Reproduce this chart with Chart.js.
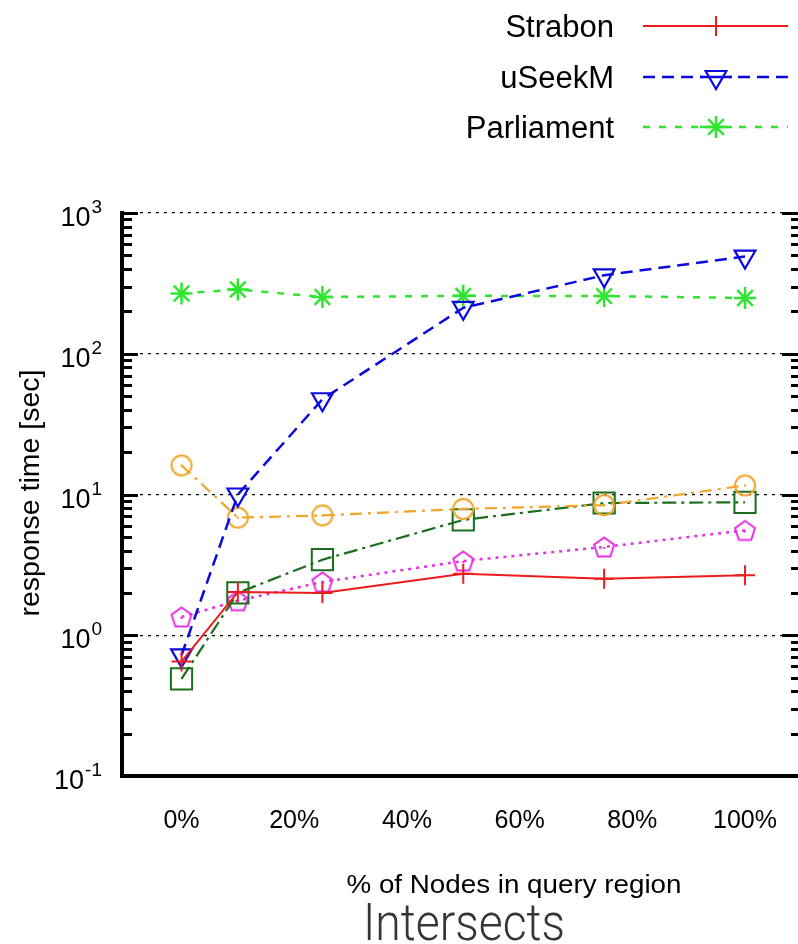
<!DOCTYPE html>
<html>
<head>
<meta charset="utf-8">
<script src="https://cdn.jsdelivr.net/npm/chart.js@4.4.1/dist/chart.umd.min.js"></script>
<style>
html,body{margin:0;padding:0;background:#fff;}
canvas{display:block;}
</style>
</head>
<body>
<canvas id="c" width="798" height="944"></canvas>
<script>
// ---------------- data ----------------
const xValues = [0, 10, 25, 50, 75, 100];
const xTickValues = [0, 20, 40, 60, 80, 100];
const xTickLabels = ['0%', '20%', '40%', '60%', '80%', '100%'];
const yTickValues = [0.1, 1, 10, 100, 1000];
const yTickBase = '10';
const yTickExponents = ['-1', '0', '1', '2', '3'];
const seriesNames = ['Strabon', 'uSeekM', 'Parliament', '', '', ''];
const strabonValues = [0.65, 2.03, 2.0, 2.74, 2.52, 2.67];
const useekmValues = [0.72, 10.0, 47.5, 212, 361, 490];
const parliamentValues = [268, 286, 253, 258, 257, 249];
const orangeValues = [16.1, 6.85, 7.1, 7.9, 8.4, 11.6];
const darkGreenValues = [0.49, 2.0, 3.44, 6.6, 8.7, 8.8];
const magentaValues = [1.35, 1.76, 2.39, 3.37, 4.24, 5.56];
const titleText = 'Intersects';
const xTitleText = '% of Nodes in query region';
const yTitleText = 'response time [sec]';

// ---------------- marker canvases ----------------
function dotCircle(color) {
  const c = document.createElement('canvas');
  c.width = 26; c.height = 26;
  const g = c.getContext('2d');
  g.strokeStyle = color; g.lineWidth = 2;
  g.beginPath(); g.arc(13, 13, 10, 0, Math.PI * 2); g.stroke();
  g.fillStyle = color; g.fillRect(12, 12, 2, 2);
  return c;
}
function dotPentagon(color) {
  const c = document.createElement('canvas');
  c.width = 26; c.height = 26;
  const g = c.getContext('2d');
  g.strokeStyle = color; g.lineWidth = 2;
  g.beginPath();
  for (let i = 0; i < 5; i++) {
    const a = -Math.PI / 2 + i * 2 * Math.PI / 5;
    const px = 13 + Math.cos(a) * 10.5, py = 14 + Math.sin(a) * 10.5;
    if (i === 0) g.moveTo(px, py); else g.lineTo(px, py);
  }
  g.closePath(); g.stroke();
  g.fillStyle = color; g.fillRect(12, 13, 2, 2);
  return c;
}

function pts(vals) { return xValues.map((x, i) => ({ x: x, y: vals[i] })); }

const datasets = [
  { label: seriesNames[0], data: pts(strabonValues), borderColor: '#ec1c1c', borderWidth: 2, borderDash: [],
    pointStyle: 'cross', pointRadius: 10, pointBorderWidth: 2, pointBorderColor: '#ec1c1c', pointBackgroundColor: 'rgba(0,0,0,0)', pointRotation: 0 },
  { label: seriesNames[1], data: pts(useekmValues), borderColor: '#0a0ae0', borderWidth: 2.5, borderDash: [12, 7],
    pointStyle: 'triangle', pointRotation: 180, pointRadius: 12, pointBorderWidth: 2.2, pointBorderColor: '#0a0ae0', pointBackgroundColor: 'rgba(0,0,0,0)' },
  { label: seriesNames[2], data: pts(parliamentValues), borderColor: '#2ee62e', borderWidth: 2.5, borderDash: [7, 9],
    pointStyle: 'star', pointRadius: 11, pointBorderWidth: 2.5, pointBorderColor: '#2ee62e', pointBackgroundColor: 'rgba(0,0,0,0)', pointRotation: 0 },
  { label: seriesNames[3], data: pts(orangeValues), borderColor: '#f0a52a', borderWidth: 2.2, borderDash: [12, 6, 3, 6],
    pointStyle: dotCircle('#f0a52a'), pointRadius: 11 },
  { label: seriesNames[4], data: pts(darkGreenValues), borderColor: '#1c6e1c', borderWidth: 2.2, borderDash: [14, 5, 3, 5],
    pointStyle: 'rect', pointRadius: 15, pointBorderWidth: 2, pointBorderColor: '#1c6e1c', pointBackgroundColor: 'rgba(0,0,0,0)', pointRotation: 0 },
  { label: seriesNames[5], data: pts(magentaValues), borderColor: '#e62ee6', borderWidth: 2.5, borderDash: [3, 5],
    pointStyle: dotPentagon('#e62ee6'), pointRadius: 11 }
];

// ---------------- plugins ----------------
const whiteBg = {
  id: 'whiteBg',
  beforeDraw(chart) {
    const ctx = chart.ctx;
    ctx.save(); ctx.fillStyle = '#fff'; ctx.fillRect(0, 0, chart.width, chart.height); ctx.restore();
  }
};

function fitText(ctx, text, x, y, targetW, align) {
  const w = ctx.measureText(text).width;
  const s = targetW / w;
  ctx.save();
  ctx.translate(x, y);
  ctx.scale(s, 1);
  ctx.textAlign = align || 'center';
  ctx.fillText(text, 0, 0);
  ctx.restore();
}

const decorations = {
  id: 'decorations',
  afterDraw(chart) {
    const ctx = chart.ctx;
    const ys = chart.scales.y;
    const area = chart.chartArea;
    ctx.save();
    // inward tick marks on left and right edges
    ctx.strokeStyle = '#000';
    ctx.lineWidth = 3;
    ctx.setLineDash([]);
    yTickValues.forEach(d => {
      for (let m = 1; m <= 9; m++) {
        const v = d * m;
        if (v > yTickValues[yTickValues.length - 1] * 1.0001) break;
        const py = Math.round(ys.getPixelForValue(v)) + 0.5;
        const major = m === 1;
        ctx.beginPath();
        ctx.moveTo(area.left, py); ctx.lineTo(area.left + (major ? 16 : 10), py);
        ctx.moveTo(area.right, py); ctx.lineTo(area.right - (major ? 16 : 7), py);
        ctx.stroke();
      }
    });
    // y tick labels with superscripts
    ctx.fillStyle = '#000';
    const baseFont = '27px "Liberation Sans", Arial, sans-serif';
    const supFont = '19px "Liberation Sans", Arial, sans-serif';
    yTickValues.forEach((v, i) => {
      const py = ys.getPixelForValue(v);
      ctx.font = supFont;
      const ew = ctx.measureText(yTickExponents[i]).width;
      ctx.font = baseFont;
      const bw = ctx.measureText(yTickBase).width;
      const right = 102;
      ctx.textAlign = 'left';
      ctx.textBaseline = 'alphabetic';
      ctx.fillText(yTickBase, right - ew - 1 - bw, py + 13);
      ctx.font = supFont;
      ctx.fillText(yTickExponents[i], right - ew, py);
    });
    // y axis title
    ctx.font = '27px "Liberation Sans", Arial, sans-serif';
    ctx.save();
    ctx.translate(39, 493);
    ctx.rotate(-Math.PI / 2);
    fitText(ctx, yTitleText, 0, 0, 247, 'center');
    ctx.restore();
    // x axis title
    ctx.font = '26px "Liberation Sans", Arial, sans-serif';
    fitText(ctx, xTitleText, 514, 893, 335, 'center');
    // chart title
    ctx.fillStyle = '#34343c';
    ctx.font = '300 52px Roboto, "Liberation Sans", sans-serif';
    fitText(ctx, titleText, 464, 940, 202, 'center');
    // legend (first three series)
    const rows = [26, 77, 127];
    for (let i = 0; i < 3; i++) {
      const ds = chart.data.datasets[i];
      const ry = rows[i];
      ctx.fillStyle = '#000';
      ctx.font = '31px "Liberation Sans", Arial, sans-serif';
      ctx.textAlign = 'right';
      ctx.textBaseline = 'alphabetic';
      ctx.fillText(ds.label, 614, ry + 11);
      ctx.strokeStyle = ds.borderColor;
      ctx.lineWidth = ds.borderWidth;
      ctx.setLineDash(ds.borderDash || []);
      ctx.beginPath(); ctx.moveTo(643, ry); ctx.lineTo(788, ry); ctx.stroke();
      ctx.setLineDash([]);
      ctx.fillStyle = '#fff';
      ctx.beginPath(); ctx.rect(716 - 13, ry - 13, 26, 26);
      ctx.fill();
      ctx.beginPath(); ctx.moveTo(700, ry); ctx.lineTo(732, ry); ctx.stroke();
      ctx.fillStyle = 'rgba(0,0,0,0)';
      ctx.lineWidth = ds.pointBorderWidth;
      if (Chart.helpers && Chart.helpers.drawPoint) {
        Chart.helpers.drawPoint(ctx, { pointStyle: ds.pointStyle, rotation: ds.pointRotation || 0, radius: ds.pointRadius, borderWidth: ds.pointBorderWidth }, 716, ry);
      }
    }
    ctx.restore();
  }
};

// ---------------- chart ----------------
new Chart(document.getElementById('c'), {
  type: 'line',
  data: { datasets: datasets },
  options: {
    responsive: false,
    animation: false,
    events: [],
    layout: { padding: { top: 213, left: 0, right: 0, bottom: 0 }, autoPadding: false },
    plugins: { legend: { display: false }, title: { display: false }, tooltip: { enabled: false } },
    elements: { line: { tension: 0, fill: false } },
    scales: {
      x: {
        type: 'linear',
        min: -10.56,
        max: 109.4,
        afterBuildTicks: s => { s.ticks = xTickValues.map(v => ({ value: v })); },
        afterFit: s => { s.height = 168; s.paddingLeft = 0; s.paddingRight = 0; s.paddingTop = 0; s.paddingBottom = 0; },
        grid: { display: false, drawTicks: false },
        border: { display: true, color: '#000', width: 4 },
        ticks: {
          autoSkip: false, maxRotation: 0, padding: 30, color: '#000',
          font: { family: '"Liberation Sans", Arial, sans-serif', size: 25 },
          callback: (v) => xTickLabels[xTickValues.indexOf(v)]
        }
      },
      y: {
        type: 'logarithmic',
        min: yTickValues[0],
        max: yTickValues[yTickValues.length - 1],
        afterBuildTicks: s => { s.ticks = yTickValues.map(v => ({ value: v })); },
        afterFit: s => { s.width = 122; s.paddingTop = 0; s.paddingBottom = 0; },
        grid: { display: true, color: '#000', lineWidth: 1.3, drawTicks: false },
        border: { display: true, color: '#000', width: 4, dash: [3, 5] },
        ticks: { display: false }
      }
    }
  },
  plugins: [whiteBg, decorations]
});
</script>
</body>
</html>
